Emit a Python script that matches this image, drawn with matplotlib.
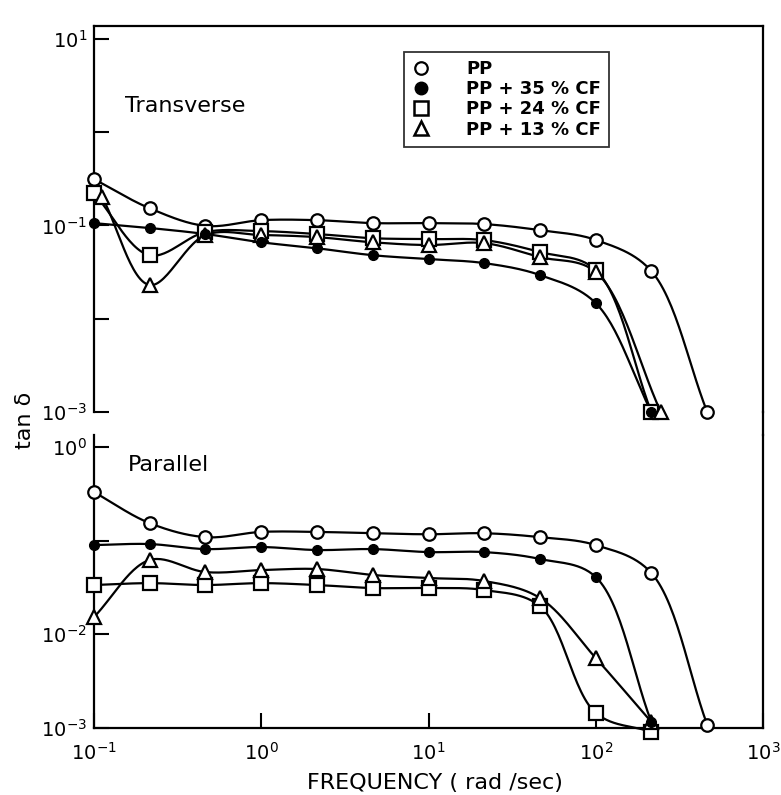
import numpy as np
import matplotlib
matplotlib.use("Agg")
import matplotlib.pyplot as plt
from matplotlib.lines import Line2D
from matplotlib.ticker import FixedLocator, FixedFormatter, NullLocator

plt.rcParams['font.family'] = ['DejaVu Sans']
plt.rcParams['mathtext.fontset'] = 'dejavusans'
plt.rcParams['mathtext.default'] = 'regular'

# ---------------- data ----------------
freq = [0.1, 0.215, 0.464, 1.0, 2.15, 4.64, 10.0, 21.5, 46.4, 100.0, 215.0, 464.0]
freq_cf = freq[:11]
freq_trans_13 = [0.112, 0.215, 0.464, 1.0, 2.15, 4.64, 10.0, 21.5, 46.4, 100.0, 245.0]

# Transverse (top panel)
trans_pp = [0.314, 0.153, 0.099, 0.114, 0.114, 0.106, 0.106, 0.1035, 0.089, 0.070, 0.0324, 0.001]
trans_35 = [0.106, 0.094, 0.081, 0.066, 0.057, 0.048, 0.0436, 0.0395, 0.0294, 0.0147, 0.001]
trans_24 = [0.222, 0.048, 0.085, 0.087, 0.081, 0.073, 0.0714, 0.0697, 0.0519, 0.0333, 0.001]
trans_13 = [0.201, 0.023, 0.079, 0.079, 0.075, 0.066, 0.0617, 0.0647, 0.0458, 0.0317, 0.001]

# Parallel (bottom panel)
par_pp = [0.330, 0.154, 0.109, 0.124, 0.124, 0.120, 0.117, 0.120, 0.109, 0.0897, 0.0451, 0.00108]
par_35 = [0.0897, 0.092, 0.0813, 0.0855, 0.0794, 0.0813, 0.0755, 0.0755, 0.0637, 0.0409, 0.00116]
par_24 = [0.0336, 0.0352, 0.0336, 0.0352, 0.0336, 0.0312, 0.0312, 0.0297, 0.0200, 0.00145, 0.00091]
par_13 = [0.0153, 0.0621, 0.0462, 0.0485, 0.0498, 0.0430, 0.0399, 0.0371, 0.0244, 0.00558, 0.00116]

labels = ['PP', 'PP + 35 % CF', 'PP + 24 % CF', 'PP + 13 % CF']
x_ticks = [0.1, 1, 10, 100, 1000]
x_ticklabels = [r'$10^{-1}$', r'$10^{0}$', r'$10^{1}$', r'$10^{2}$', r'$10^{3}$']
top_yticks = [1e-3, 1e-2, 1e-1, 1e0, 1e1]
top_yticklabels = [r'$10^{-3}$', '', r'$10^{-1}$', '', r'$10^{1}$']
bot_yticks = [1e-3, 1e-2, 1e-1, 1e0]
bot_yticklabels = [r'$10^{-3}$', r'$10^{-2}$', '', r'$10^{0}$']

# ---------------- helpers ----------------
def smooth_curve(x, y, n=30, alpha=0.5):
    """Centripetal Catmull-Rom curve through the points in log-log space."""
    sx, sy = 167.0, 93.3
    P = np.column_stack([np.log10(x) * sx, np.log10(y) * sy])
    P = np.vstack([2 * P[0] - P[1], P, 2 * P[-1] - P[-2]])
    out = []
    for i in range(1, len(P) - 2):
        p0, p1, p2, p3 = P[i - 1], P[i], P[i + 1], P[i + 2]
        def tj(ti, a, b):
            return ti + max(np.linalg.norm(b - a), 1e-6) ** alpha
        t0 = 0.0
        t1 = tj(t0, p0, p1)
        t2 = tj(t1, p1, p2)
        t3 = tj(t2, p2, p3)
        t = np.linspace(t1, t2, n)[:, None]
        A1 = (t1 - t) / (t1 - t0) * p0 + (t - t0) / (t1 - t0) * p1
        A2 = (t2 - t) / (t2 - t1) * p1 + (t - t1) / (t2 - t1) * p2
        A3 = (t3 - t) / (t3 - t2) * p2 + (t - t2) / (t3 - t2) * p3
        B1 = (t2 - t) / (t2 - t0) * A1 + (t - t0) / (t2 - t0) * A2
        B2 = (t3 - t) / (t3 - t1) * A2 + (t - t1) / (t3 - t1) * A3
        C = (t2 - t) / (t2 - t1) * B1 + (t - t1) / (t2 - t1) * B2
        out.append(C)
    C = np.vstack(out)
    return 10 ** (C[:, 0] / sx), 10 ** (C[:, 1] / sy)

styles = [
    dict(marker='o', ms=9, mfc='white', mec='black', mew=1.6),
    dict(marker='o', ms=7, mfc='black', mec='black', mew=1.0),
    dict(marker='s', ms=10, mfc='white', mec='black', mew=1.6),
    dict(marker='^', ms=10.5, mfc='white', mec='black', mew=1.6),
]
legend_styles = [
    dict(marker='o', ms=9, mfc='white', mec='black', mew=1.6),
    dict(marker='o', ms=9, mfc='black', mec='black', mew=1.0),
    dict(marker='s', ms=9.5, mfc='white', mec='black', mew=1.8),
    dict(marker='^', ms=9.5, mfc='white', mec='black', mew=1.8),
]

def draw_series(ax, xs, ys, style, z):
    cx, cy = smooth_curve(xs, ys)
    ax.plot(cx, cy, color='black', lw=1.6, zorder=2, clip_on=False)
    ax.plot(xs, ys, ls='none', zorder=z, clip_on=False, **style)

# ---------------- figure ----------------
W, H = 781, 795
fig = plt.figure(figsize=(W / 100, H / 100), dpi=100)

L, R = 94, 763
ax_top = fig.add_axes([L / W, 1 - 412 / H, (R - L) / W, (412 - 26) / H])
ax_bot = fig.add_axes([L / W, 1 - 728 / H, (R - L) / W, (728 - 435) / H])

for ax in (ax_top, ax_bot):
    ax.set_xscale('log')
    ax.set_yscale('log')
    ax.set_xlim(0.1, 1000)
    for s in ax.spines.values():
        s.set_linewidth(1.6)
    ax.tick_params(which='both', direction='in', length=11, width=1.5,
                   labelsize=14, top=False, right=False)
    ax.xaxis.set_minor_locator(NullLocator())
    ax.yaxis.set_minor_locator(NullLocator())

ax_top.set_ylim(1e-3, 10 ** 1.139)
ax_bot.set_ylim(1e-3, 10 ** 0.128)

ax_top.spines['bottom'].set_visible(False)
ax_bot.spines['top'].set_visible(False)

ax_top.yaxis.set_major_locator(FixedLocator(top_yticks))
ax_top.yaxis.set_major_formatter(FixedFormatter(top_yticklabels))
ax_top.tick_params(axis='x', bottom=False, labelbottom=False)
ax_top.tick_params(axis='y', pad=5)

ax_bot.yaxis.set_major_locator(FixedLocator(bot_yticks))
ax_bot.yaxis.set_major_formatter(FixedFormatter(bot_yticklabels))
ax_bot.xaxis.set_major_locator(FixedLocator(x_ticks))
ax_bot.xaxis.set_major_formatter(FixedFormatter(x_ticklabels))
ax_bot.tick_params(axis='x', pad=10)
ax_bot.tick_params(axis='y', pad=5)

# right border continuous across the gap
fig.add_artist(Line2D([R / W, R / W], [1 - 435 / H, 1 - 412 / H],
                      transform=fig.transFigure, color='black', lw=1.6))

# transverse
draw_series(ax_top, freq, trans_pp, styles[0], 3)
draw_series(ax_top, freq_cf, trans_24, styles[2], 4)
draw_series(ax_top, freq_trans_13, trans_13, styles[3], 5)
draw_series(ax_top, freq_cf, trans_35, styles[1], 6)

# parallel
draw_series(ax_bot, freq, par_pp, styles[0], 3)
draw_series(ax_bot, freq_cf, par_24, styles[2], 4)
draw_series(ax_bot, freq_cf, par_13, styles[3], 5)
draw_series(ax_bot, freq_cf, par_35, styles[1], 6)

ax_top.text(0.046, 0.793, 'Transverse', transform=ax_top.transAxes,
            fontsize=16, ha='left', va='center')
ax_bot.text(0.051, 0.898, 'Parallel', transform=ax_bot.transAxes,
            fontsize=16, ha='left', va='center')

handles = [Line2D([], [], ls='none', **st) for st in legend_styles]
leg = fig.legend(handles, labels, loc='upper left',
                 bbox_to_anchor=(404 / W, 1 - 52 / H), borderaxespad=0,
                 frameon=True, fancybox=False, edgecolor='black',
                 prop={'weight': 'bold', 'size': 13},
                 handlelength=1.0, handletextpad=2.0, labelspacing=0.12,
                 borderpad=0.45)
leg.get_frame().set_linewidth(1.3)

fig.text(25 / W, 1 - 420 / H, 'tan δ', rotation=90, fontsize=16,
         ha='center', va='center')
fig.text(435 / W, 1 - 783 / H, 'FREQUENCY ( rad /sec)', fontsize=16,
         ha='center', va='center')

fig.savefig('out.png', dpi=100)
